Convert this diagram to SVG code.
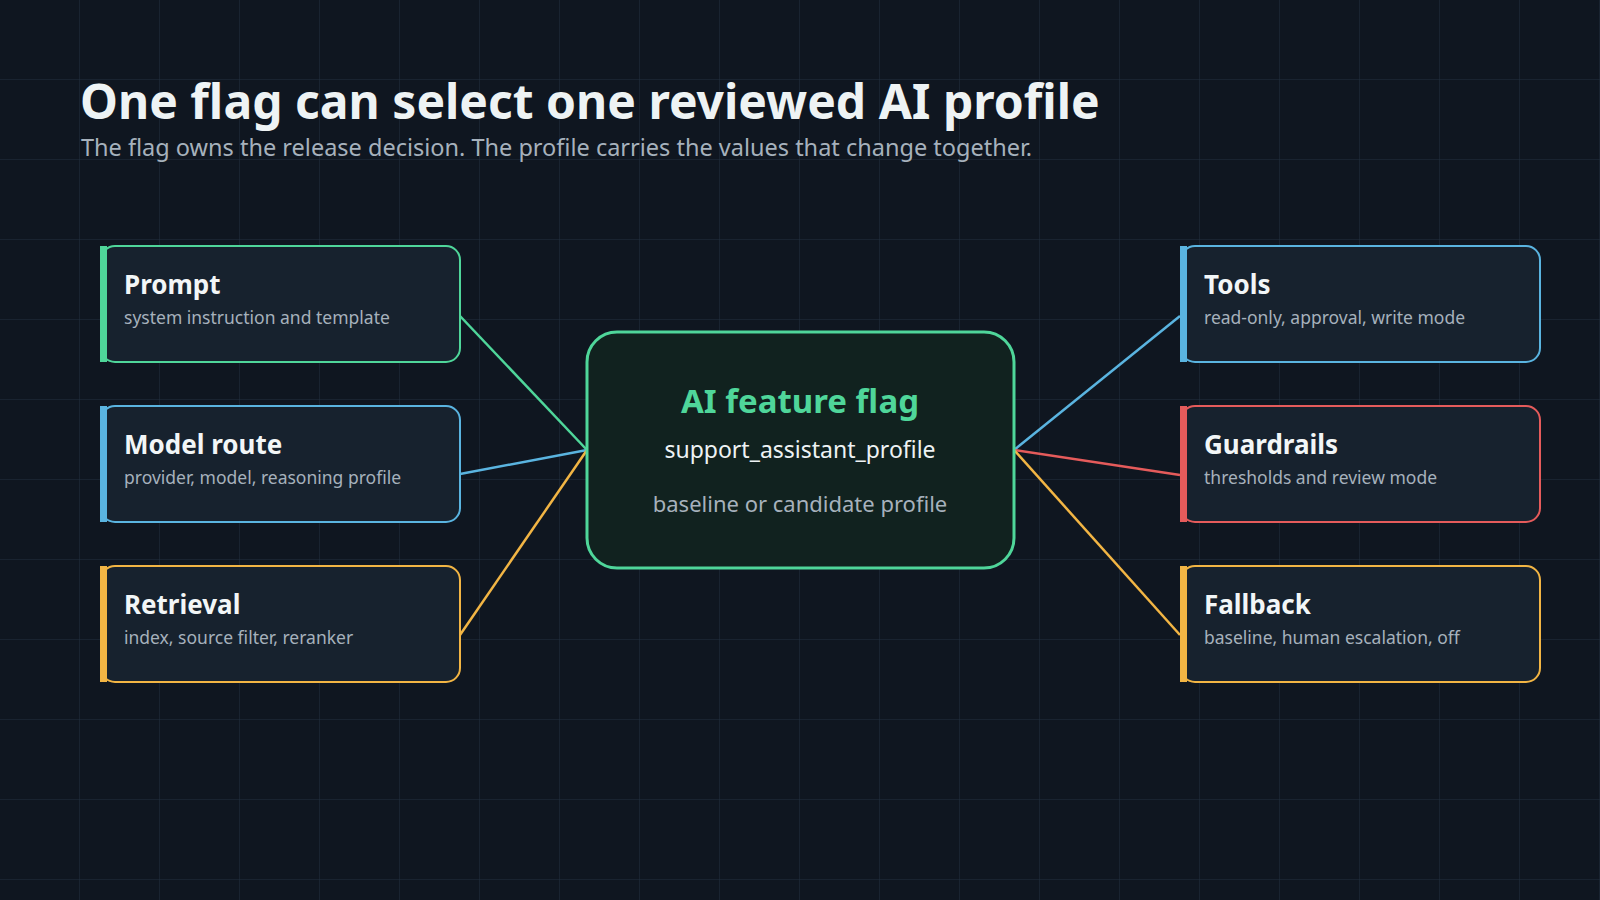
<svg xmlns="http://www.w3.org/2000/svg" width="1600" height="900" viewBox="0 0 1600 900">
<defs>
<pattern id="grid" width="80" height="80" patternUnits="userSpaceOnUse"><path d="M80 0V80M0 80H80" fill="none" stroke="#223040" stroke-width="1"/></pattern>
<style>
text{font-family:"Noto Sans","Open Sans","Liberation Sans",sans-serif}
.card{fill:#17222e;stroke-width:2}
.t{fill:#f2f6f7;font-size:26px;font-weight:bold}
.s{fill:#a6b1bc;font-size:17.5px}
.g{stroke:#4fd69a}.b{stroke:#5ab4e0}.y{stroke:#f2b544}.r{stroke:#e55b5b}
.conn line{stroke-width:2.5}
</style>
</defs>
<rect width="1600" height="900" fill="#0f1620"/>
<rect width="1600" height="900" fill="url(#grid)"/>
<text x="80" y="119" font-size="48" font-weight="bold" fill="#eef3f4">One flag can select one reviewed AI profile</text>
<text x="81" y="156" font-size="23.5" fill="#a6b1bc">The flag owns the release decision. The profile carries the values that change together.</text>
<g class="conn">
<line class="g" x1="460" y1="316" x2="587" y2="450"/>
<line class="b" x1="460" y1="474" x2="587" y2="450"/>
<line class="y" x1="460" y1="635" x2="587" y2="450"/>
<line class="b" x1="1014" y1="450" x2="1180" y2="316"/>
<line class="r" x1="1014" y1="450" x2="1180" y2="475"/>
<line class="y" x1="1014" y1="450" x2="1180" y2="635"/>
</g>
<g id="prompt"><rect class="card g" x="101" y="246" width="359" height="116" rx="14"/><rect x="100" y="246" width="7" height="116" fill="#4fd69a"/><text class="t" x="124" y="294">Prompt</text><text class="s" x="124" y="324">system instruction and template</text></g>
<g id="model"><rect class="card b" x="101" y="406" width="359" height="116" rx="14"/><rect x="100" y="406" width="7" height="116" fill="#5ab4e0"/><text class="t" x="124" y="454">Model route</text><text class="s" x="124" y="484">provider, model, reasoning profile</text></g>
<g id="retrieval"><rect class="card y" x="101" y="566" width="359" height="116" rx="14"/><rect x="100" y="566" width="7" height="116" fill="#f2b544"/><text class="t" x="124" y="614">Retrieval</text><text class="s" x="124" y="644">index, source filter, reranker</text></g>
<g id="tools"><rect class="card b" x="1181" y="246" width="359" height="116" rx="14"/><rect x="1180" y="246" width="7" height="116" fill="#5ab4e0"/><text class="t" x="1204" y="294">Tools</text><text class="s" x="1204" y="324">read-only, approval, write mode</text></g>
<g id="guardrails"><rect class="card r" x="1181" y="406" width="359" height="116" rx="14"/><rect x="1180" y="406" width="7" height="116" fill="#e55b5b"/><text class="t" x="1204" y="454">Guardrails</text><text class="s" x="1204" y="484">thresholds and review mode</text></g>
<g id="fallback"><rect class="card y" x="1181" y="566" width="359" height="116" rx="14"/><rect x="1180" y="566" width="7" height="116" fill="#f2b544"/><text class="t" x="1204" y="614">Fallback</text><text class="s" x="1204" y="644">baseline, human escalation, off</text></g>
<g id="flag"><rect x="587" y="332" width="427" height="236" rx="30" fill="#11221f" stroke="#4fd69a" stroke-width="3"/>
<text x="800" y="413" text-anchor="middle" font-size="33" font-weight="bold" fill="#4fd69a">AI feature flag</text>
<text x="800" y="458" text-anchor="middle" font-size="23" fill="#eef3f4">support_assistant_profile</text>
<text x="800" y="512" text-anchor="middle" font-size="22" fill="#a6b1bc">baseline or candidate profile</text></g>
</svg>
